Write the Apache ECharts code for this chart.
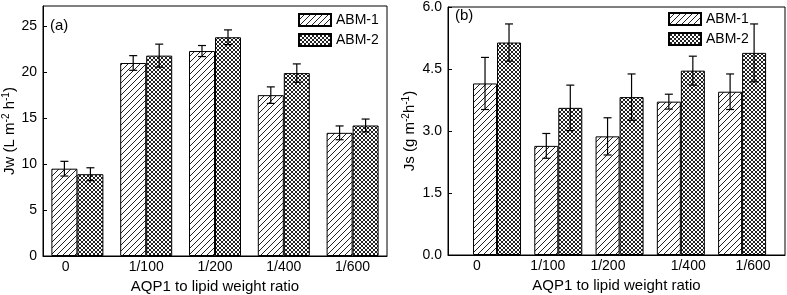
<!DOCTYPE html>
<html>
<head>
<meta charset="utf-8">
<script src="https://cdn.jsdelivr.net/npm/echarts@6/dist/echarts.min.js"></script>
<style>
html, body { margin: 0; padding: 0; background: #fff; }
#chart { width: 787px; height: 295px; }
</style>
</head>
<body>
<div id="chart"></div>
<script>
// categories and where each group / label sits along the x axis
const ratios = ['0', '1/100', '1/200', '1/400', '1/600'];
const groupPos = [1, 2, 3, 4, 5];
const jwLabelPos = [0.83, 2, 3, 4, 5];
const jsLabelPos = [0.67, 1.83, 2.81, 4.12, 5.18];

// (a) water flux Jw
const jwAbm1 = [9.5, 21.0, 22.3, 17.5, 13.4];
const jwAbm1Err = [0.8, 0.8, 0.6, 0.9, 0.75];
const jwAbm2 = [8.9, 21.8, 23.8, 19.9, 14.2];
const jwAbm2Err = [0.7, 1.25, 0.8, 1.0, 0.7];

// (b) reverse salt flux Js
const jsAbm1 = [4.15, 2.64, 2.87, 3.71, 3.95];
const jsAbm1Err = [0.63, 0.3, 0.45, 0.18, 0.43];
const jsAbm2 = [5.14, 3.56, 3.82, 4.46, 4.89];
const jsAbm2Err = [0.45, 0.55, 0.56, 0.35, 0.7];

// y ticks
const jwMin = 0, jwMax = 27.2, jwStep = 5;
const jsMin = 0, jsMax = 6, jsStep = 1.5;

const FONT = 'Liberation Sans, Arial, sans-serif';

function hatchPattern() {
  const c = document.createElement('canvas');
  c.width = 6; c.height = 6;
  const g = c.getContext('2d');
  g.fillStyle = '#fff'; g.fillRect(0, 0, 6, 6);
  g.strokeStyle = '#222'; g.lineWidth = 1;
  g.beginPath();
  g.moveTo(0, 6); g.lineTo(6, 0);
  g.moveTo(-1, 1); g.lineTo(1, -1);
  g.moveTo(5, 7); g.lineTo(7, 5);
  g.stroke();
  return { image: c, repeat: 'repeat' };
}
function crossPattern() {
  const c = document.createElement('canvas');
  c.width = 4; c.height = 4;
  const g = c.getContext('2d');
  g.fillStyle = '#fff'; g.fillRect(0, 0, 4, 4);
  g.strokeStyle = '#222'; g.lineWidth = 1;
  g.beginPath();
  g.moveTo(0, 0); g.lineTo(4, 4);
  g.moveTo(0, 4); g.lineTo(4, 0);
  g.stroke();
  return { image: c, repeat: 'repeat' };
}
const pat1 = hatchPattern();
const pat2 = crossPattern();

function pts(vals) { return groupPos.map((x, i) => [x, vals[i]]); }
function errPts(vals, errs) { return groupPos.map((x, i) => [x, vals[i], errs[i]]); }

function barSeries(name, idx, vals, pattern, width) {
  return {
    type: 'bar', name, xAxisIndex: idx, yAxisIndex: idx,
    data: pts(vals), barWidth: width, barGap: '0%',
    itemStyle: { color: pattern, borderColor: '#000', borderWidth: 1 },
    emphasis: { disabled: true }
  };
}
function errSeries(idx, vals, errs, offset) {
  return {
    type: 'custom', name: 'err', xAxisIndex: idx, yAxisIndex: idx, z: 5,
    data: errPts(vals, errs),
    encode: { x: 0, y: 1 },
    renderItem(params, api) {
      const x = api.value(0), y = api.value(1), e = api.value(2);
      const top = api.coord([x, y + e]);
      const bot = api.coord([x, y - e]);
      const px = top[0] + offset;
      const st = { stroke: '#000', lineWidth: 1.2 };
      return {
        type: 'group',
        children: [
          { type: 'line', shape: { x1: px, y1: top[1], x2: px, y2: bot[1] }, style: st },
          { type: 'line', shape: { x1: px - 4, y1: top[1], x2: px + 4, y2: top[1] }, style: st },
          { type: 'line', shape: { x1: px - 4, y1: bot[1], x2: px + 4, y2: bot[1] }, style: st }
        ]
      };
    }
  };
}

function xAxis(idx, min, max, labelPos) {
  return {
    type: 'value', gridIndex: idx, min, max,
    name: 'AQP1 to lipid weight ratio', nameLocation: 'middle', nameGap: 21,
    nameTextStyle: { fontSize: 15, color: '#000', fontFamily: FONT },
    axisLine: { lineStyle: { color: '#000', width: 1 } },
    axisTick: { show: false },
    splitLine: { show: false },
    axisLabel: {
      customValues: labelPos, color: '#000', fontSize: 14, fontFamily: FONT, margin: 4,
      formatter: v => {
        let best = 0;
        labelPos.forEach((p, i) => { if (Math.abs(p - v) < Math.abs(labelPos[best] - v)) best = i; });
        return ratios[best];
      }
    }
  };
}
function yAxis(idx, min, max, step, name, gap, fmt) {
  return {
    type: 'value', gridIndex: idx, min, max, interval: step,
    name, nameLocation: 'middle', nameGap: gap, nameRotate: 90,
    nameTextStyle: {
      fontSize: 15, color: '#000', fontFamily: FONT,
      rich: {
        n: { fontSize: 15, color: '#000', fontFamily: FONT, lineHeight: 17 },
        s: { fontSize: 10, color: '#000', fontFamily: FONT, lineHeight: 10, verticalAlign: 'top' }
      }
    },
    axisLine: { show: true, lineStyle: { color: '#000', width: 1 } },
    axisTick: { show: true, inside: true, length: 4, lineStyle: { color: '#000' } },
    splitLine: { show: false },
    axisLabel: { color: '#000', fontSize: 14, fontFamily: FONT, margin: 6, showMaxLabel: idx === 1, formatter: fmt }
  };
}

const legendBase = {
  data: ['ABM-1', 'ABM-2'], orient: 'vertical', icon: 'rect', padding: 0,
  itemWidth: 32, itemHeight: 12, itemGap: 6,
  textStyle: { fontSize: 14, color: '#000', fontFamily: FONT },
  selectedMode: false
};

const chart = echarts.init(document.getElementById('chart'));
chart.setOption({
  animation: false,
  grid: [
    { left: 43, right: 400, top: 6, bottom: 39, outerBoundsMode: 'none', containLabel: false,
      show: true, borderColor: '#000', borderWidth: 1 },
    { left: 448, right: 2, top: 7, bottom: 40, outerBoundsMode: 'none', containLabel: false,
      show: true, borderColor: '#000', borderWidth: 1 }
  ],
  legend: [
    Object.assign({ left: 298, top: 13 }, legendBase),
    Object.assign({ left: 668, top: 12 }, legendBase)
  ],
  xAxis: [xAxis(0, 0.5, 5.5, jwLabelPos), xAxis(1, 0.2, 5.7, jsLabelPos)],
  yAxis: [
    yAxis(0, jwMin, jwMax, jwStep, '{n|Jw (L m}{s|-2}{n| h}{s|-1}{n|)}', 23, v => String(v)),
    yAxis(1, jsMin, jsMax, jsStep, '{n|Js (g m}{s|-2}{n|h}{s|-1}{n|)}', 30, v => v.toFixed(1))
  ],
  graphic: [
    { type: 'text', left: 50, top: 18, style: { text: '(a)', fontSize: 15, fill: '#000', fontFamily: FONT } },
    { type: 'text', left: 455, top: 8, style: { text: '(b)', fontSize: 15, fill: '#000', fontFamily: FONT } }
  ],
  series: [
    barSeries('ABM-1', 0, jwAbm1, pat1, 26),
    barSeries('ABM-2', 0, jwAbm2, pat2, 26),
    errSeries(0, jwAbm1, jwAbm1Err, -13),
    errSeries(0, jwAbm2, jwAbm2Err, 13),
    barSeries('ABM-1', 1, jsAbm1, pat1, 24),
    barSeries('ABM-2', 1, jsAbm2, pat2, 24),
    errSeries(1, jsAbm1, jsAbm1Err, -12),
    errSeries(1, jsAbm2, jsAbm2Err, 12)
  ]
});
</script>
</body>
</html>
